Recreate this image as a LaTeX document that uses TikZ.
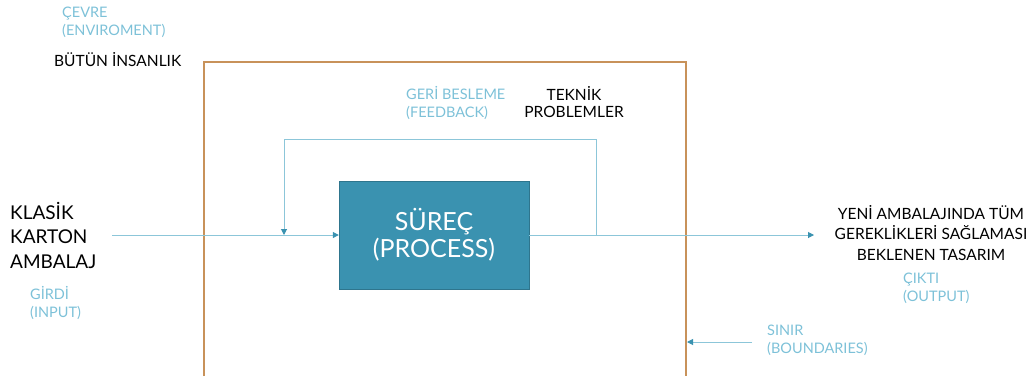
\documentclass[tikz,border=0pt]{standalone}
\usepackage{fontspec}
\setmainfont{Lato}
\usetikzlibrary{arrows.meta}
\definecolor{lblue}{HTML}{7DC1D8}
\definecolor{teal}{HTML}{3A92B0}
\definecolor{bound}{HTML}{C8925A}
\definecolor{linec}{HTML}{8CC6D9}
\tikzset{
  lbl/.style={text=lblue, font=\fontsize{14.5}{18}\selectfont, align=left, inner sep=0pt},
  blk/.style={text=black, font=\fontsize{15.5}{17}\selectfont, inner sep=0pt},
  conn/.style={draw=linec, line width=1pt},
  arr/.style={conn, -{Triangle[length=6pt,width=6pt,fill=teal,color=teal]}},
}
\begin{document}
\begin{tikzpicture}[x=1pt,y=-1pt]
\useasboundingbox (0,0) rectangle (1033,376);
% boundary
\draw[bound, line width=1.2pt] (204,376) -- (204,62) -- (686,62) -- (686,376);
% process
\node[draw=teal!80!black, fill=teal, minimum width=190pt, minimum height=108pt, inner sep=0pt, text=white, align=center, font=\fontsize{25}{27}\selectfont] (proc) at (434,235) {SÜREÇ\\(PROCESS)};
% texts
\node[lbl, anchor=north west] (env) at (62,7) {ÇEVRE\\(ENVIROMENT)};
\node[blk, anchor=west] (hum) at (54,60) {BÜTÜN İNSANLIK};
\node[text=black, font=\fontsize{19}{24.5}\selectfont, align=left, inner sep=0pt, anchor=west] (in) at (10,235) {KLASİK\\KARTON\\AMBALAJ};
\node[lbl, anchor=north west] (girdi) at (30,286) {GİRDİ\\(INPUT)};
\node[lbl, anchor=north west] (fb) at (406,86) {GERİ BESLEME\\(FEEDBACK)};
\node[blk, align=center, anchor=center] (tek) at (574,102) {TEKNİK\\PROBLEMLER};
\node[blk, align=center, anchor=center, font=\fontsize{15.5}{20.5}\selectfont] (out) at (931,233) {YENİ AMBALAJINDA TÜM\\GEREKLİKLERİ SAĞLAMASI\\BEKLENEN TASARIM};
\node[lbl, anchor=north west] (cikti) at (903,273) {ÇIKTI\\(OUTPUT)};
\node[lbl, anchor=north west] (sinir) at (767,325) {SINIR\\(BOUNDARIES)};
% connectors
\coordinate (inS) at (112,235);
\coordinate (fbR) at (596,235);
\coordinate (fbL) at (284,235);
\coordinate (outE) at (814,235);
\coordinate (bS) at (752,342);
\coordinate (bE) at (687,342);
\draw[arr] (inS) -- (proc.west);
\draw[arr] (fbR) -- (596,139) -- (284,139) -- (fbL);
\draw[arr] (proc.east) -- (outE);
\draw[arr] (bS) -- (bE);
\end{tikzpicture}
\end{document}
